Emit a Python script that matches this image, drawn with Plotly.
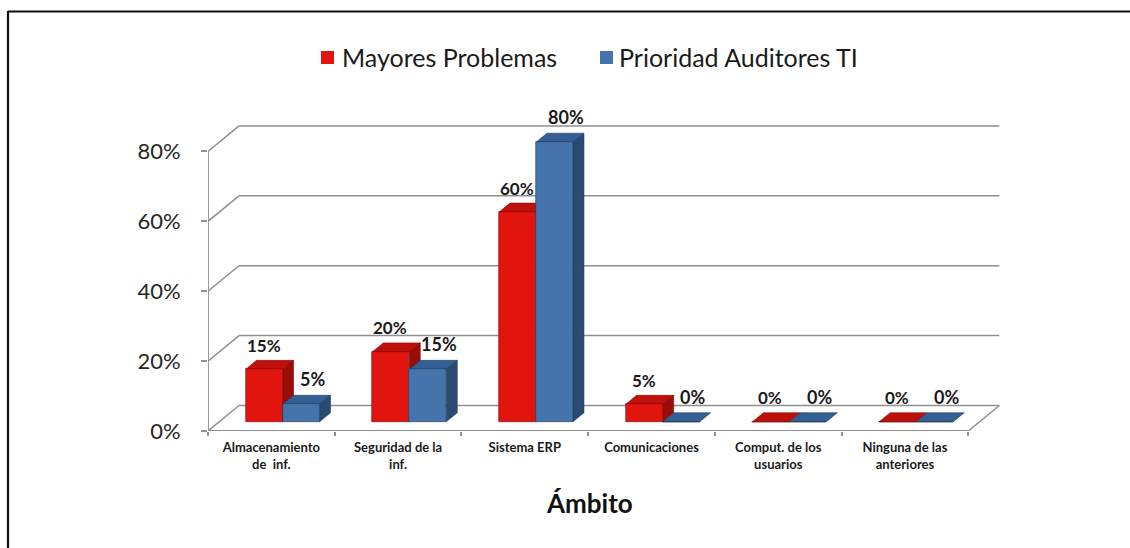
import plotly.graph_objects as go

# ---- data ----
categorias = [
    "Almacenamiento<br>de  inf.",
    "Seguridad de la<br>inf.",
    "Sistema ERP",
    "Comunicaciones",
    "Comput. de los<br>usuarios",
    "Ninguna de las<br>anteriores",
]
mayores_problemas = [15, 20, 60, 5, 0, 0]
prioridad_auditores = [5, 15, 80, 0, 0, 0]
ticks_y = [0, 20, 40, 60, 80]
series_names = ["Mayores Problemas", "Prioridad Auditores TI"]

# ---- page geometry ----
W, H = 1130, 548
ML, MR, MT, MB = 208, 130, 120, 117
X_RANGE = [-0.5, 5.75]
Y_RANGE = [0, 89]
PW, PH = W - ML - MR, H - MT - MB
PX_X = PW / (X_RANGE[1] - X_RANGE[0])   # pixels per category unit
PX_Y = PH / (Y_RANGE[1] - Y_RANGE[0])   # pixels per percent

# 3D depth of the chart box (pixels -> data units)
DX = 31 / PX_X
DY = 25.5 / PX_Y
F0, FT = 0.36, 0.355           # bar front depth, bar thickness (fraction of box depth)
BX0, BY0 = F0 * DX, F0 * DY
TDX, TDY = FT * DX, FT * DY
BW = 37 / PX_X                 # bar width

GRID = "#8f8f8f"
RED = dict(front="#e2140e", top="#c0100b", side="#9a0c08", edge="#7a0a06")
BLUE = dict(front="#4474ab", top="#335f92", side="#2a4a72", edge="#1f3a5c")

n = len(categorias)
idx = list(range(n))
x_left = X_RANGE[0]
x_right = n - 0.5

shapes = []


def line(x0, y0, x1, y1, color=GRID, width=1.5, layer="below"):
    shapes.append(dict(type="line", xref="x", yref="y", x0=x0, y0=y0, x1=x1, y1=y1,
                       line=dict(color=color, width=width), layer=layer))


def poly(pts, fill, edge):
    path = "M " + " L ".join(f"{px},{py}" for px, py in pts) + " Z"
    shapes.append(dict(type="path", xref="x", yref="y", path=path, fillcolor=fill,
                       line=dict(color=edge, width=0.6), layer="below"))


def px_to_paper_x(px):
    return (px - ML) / PW


def px_to_paper_y(py):
    return (H - MB - py) / PH


# back wall gridlines with the diagonal return on the left wall
for v in ticks_y:
    line(x_left, v, x_left + DX, v + DY)
    line(x_left + DX, v + DY, x_right + DX, v + DY)
# floor edges and front axes
line(x_right, 0, x_right + DX, DY)
line(x_left - 0.06, 0, x_right, 0, width=1.8)
line(x_left, 0, x_left, ticks_y[-1], width=1.8)

# top and side faces of each bar (behind the bar traces for correct overlap)
centers = {}
for s, (vals, col) in enumerate([(mayores_problemas, RED), (prioridad_auditores, BLUE)]):
    sign = -1 if s == 0 else 1
    cx = [i + BX0 + sign * BW / 2 for i in idx]
    centers[s] = cx
    for c, v in zip(cx, vals):
        xl, xr = c - BW / 2, c + BW / 2
        top = BY0 + v
        poly([(xl, top), (xr, top), (xr + TDX, top + TDY), (xl + TDX, top + TDY)],
             col["top"], col["edge"])
        if v > 0:
            poly([(xr, BY0), (xr, top), (xr + TDX, top + TDY), (xr + TDX, BY0 + TDY)],
                 col["side"], col["edge"])

fig = go.Figure()

# bar front faces
for s, (vals, col, name) in enumerate([(mayores_problemas, RED, series_names[0]),
                                       (prioridad_auditores, BLUE, series_names[1])]):
    fig.add_trace(go.Bar(
        x=centers[s], y=vals, base=[BY0] * n, width=BW, name=name,
        marker=dict(color=col["front"], line=dict(color=col["edge"], width=0.6)),
        showlegend=False, hoverinfo="skip",
    ))

# value labels
annotations = []
for s, (vals, size, xs, ys) in enumerate([(mayores_problemas, 17, -6, 15),
                                           (prioridad_auditores, 18, 6, 16)]):
    for c, v in zip(centers[s], vals):
        annotations.append(dict(
            x=c + TDX / 2, y=BY0 + v + TDY, xref="x", yref="y",
            text=f"{v}%", showarrow=False, xshift=xs, yshift=ys,
            font=dict(family="Lato", size=size, color="#1a1a1a", weight="bold"),
        ))

# legend: colour key squares and series names
legend_items = [(series_names[0], RED["front"], 327.5, 340),
                (series_names[1], BLUE["front"], 606.5, 617)]
for name, color, sq_x, txt_x in legend_items:
    shapes.append(dict(type="rect", xref="paper", yref="paper",
                       x0=px_to_paper_x(sq_x - 6.5), x1=px_to_paper_x(sq_x + 6.5),
                       y0=px_to_paper_y(64), y1=px_to_paper_y(51),
                       fillcolor=color, line=dict(width=0), layer="above"))
    annotations.append(dict(
        x=px_to_paper_x(txt_x), y=px_to_paper_y(57), xref="paper", yref="paper",
        text=name, showarrow=False, xanchor="left", yanchor="middle",
        font=dict(family="Lato", size=25, color="#1a1a1a"),
    ))

# axis title
annotations.append(dict(
    x=px_to_paper_x(589), y=px_to_paper_y(503), xref="paper", yref="paper",
    text="<b>Ámbito</b>", showarrow=False, xanchor="center", yanchor="middle",
    font=dict(family="Lato", size=26, color="#111111"),
))

# outer frame
shapes.append(dict(type="line", xref="paper", yref="paper",
                   x0=px_to_paper_x(8), y0=px_to_paper_y(11.5),
                   x1=px_to_paper_x(W + 5), y1=px_to_paper_y(11.5),
                   line=dict(color="#111111", width=2.2), layer="above"))
shapes.append(dict(type="line", xref="paper", yref="paper",
                   x0=px_to_paper_x(8), y0=px_to_paper_y(11),
                   x1=px_to_paper_x(8), y1=px_to_paper_y(H + 5),
                   line=dict(color="#111111", width=2.2), layer="above"))

fig.update_layout(
    width=W, height=H,
    margin=dict(l=ML, r=MR, t=MT, b=MB, pad=0),
    paper_bgcolor="white", plot_bgcolor="white",
    barmode="overlay", bargap=0, showlegend=False,
    shapes=shapes, annotations=annotations,
    font=dict(family="Lato", color="#262626"),
    xaxis=dict(
        range=X_RANGE, tickmode="array", tickvals=idx, ticktext=[f"<b>{c}</b>" for c in categorias],
        showgrid=False, zeroline=False, showline=False, ticks="",
        ticklabelstandoff=7,
        tickfont=dict(family="Lato", size=13, color="#1a1a1a"),
        minor=dict(tickmode="array", tickvals=[i - 0.5 for i in range(n + 1)],
                   ticks="outside", ticklen=4, tickcolor=GRID, tickwidth=1.5, showgrid=False),
        fixedrange=True,
    ),
    yaxis=dict(
        range=Y_RANGE, tickmode="array", tickvals=ticks_y, ticktext=[f"{v}%" for v in ticks_y],
        showgrid=False, zeroline=False, showline=False,
        ticks="outside", ticklen=6, tickcolor=GRID, tickwidth=1.5,
        ticklabelstandoff=16,
        tickfont=dict(family="Lato", size=22, color="#262626"),
        fixedrange=True,
    ),
)

fig.write_html("out.html")
